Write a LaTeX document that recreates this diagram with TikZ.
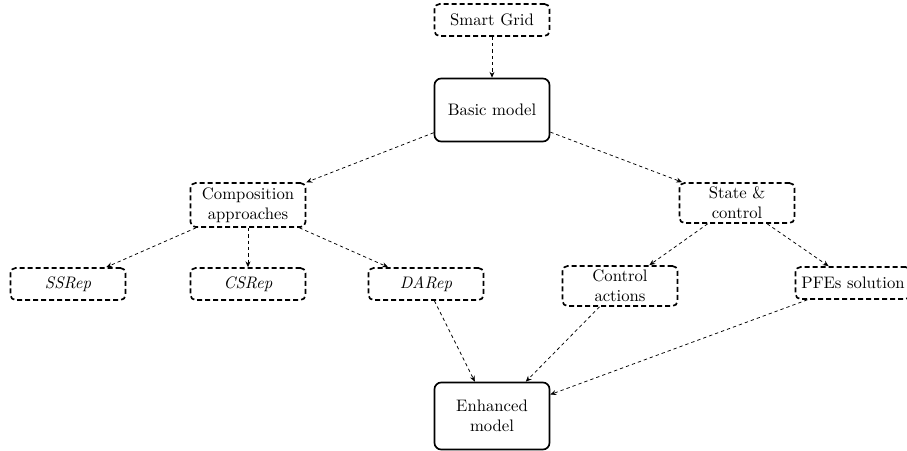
\documentclass[tikz,border=0pt]{standalone}
\usetikzlibrary{arrows.meta}
\begin{document}
\begin{tikzpicture}[x=0.6pt,y=-0.6pt,
  font=\fontsize{10}{12}\selectfont,
  dbox/.style={draw, line width=1pt, dash pattern=on 3pt off 1.8pt, rounded corners=3pt, align=center, inner sep=0pt, minimum width=69pt},
  sbox/.style={draw, line width=1pt, rounded corners=4pt, align=center, inner sep=0pt, minimum width=69pt},
  link/.style={dash pattern=on 2pt off 1.8pt, line width=0.45pt, -{Stealth[length=3.5pt,width=3pt]}}]
\useasboundingbox (0,0) rectangle (907,451);
% top of the hierarchy
\node[dbox, minimum height=19.2pt] (sg) at (492,20) {Smart Grid};
\node[sbox, minimum height=37.8pt] (bm) at (492,110) {Basic model};
% second level
\node[dbox, minimum height=26.4pt] (ca) at (248,205) {Composition\\approaches};
\node[dbox, minimum height=24pt] (sc) at (737,203) {State \&\\control};
% third level
\node[dbox, minimum height=19.2pt] (ss) at (68,284) {\textit{SSRep}};
\node[dbox, minimum height=19.2pt] (cs) at (248,284) {\textit{CSRep}};
\node[dbox, minimum height=19.2pt] (da) at (426,284) {\textit{DARep}};
\node[dbox, minimum height=24pt] (ctl) at (620,286) {Control\\actions};
\node[dbox, minimum height=19.2pt] (pfe) at (853,283) {PFEs solution};
% result
\node[sbox, minimum height=40.2pt] (em) at (492,416) {Enhanced\\model};
% connectors
\draw[link] (sg) -- (bm);
\draw[link] (bm) -- (ca);
\draw[link] (bm) -- (sc);
\draw[link] (ca) -- (ss);
\draw[link] (ca) -- (cs);
\draw[link] (ca) -- (da);
\draw[link] (sc) -- (ctl);
\draw[link] (sc) -- (pfe);
\draw[link] (da) -- (em);
\draw[link] (ctl) -- (em);
\draw[link] (pfe) -- (em);
\end{tikzpicture}
\end{document}
